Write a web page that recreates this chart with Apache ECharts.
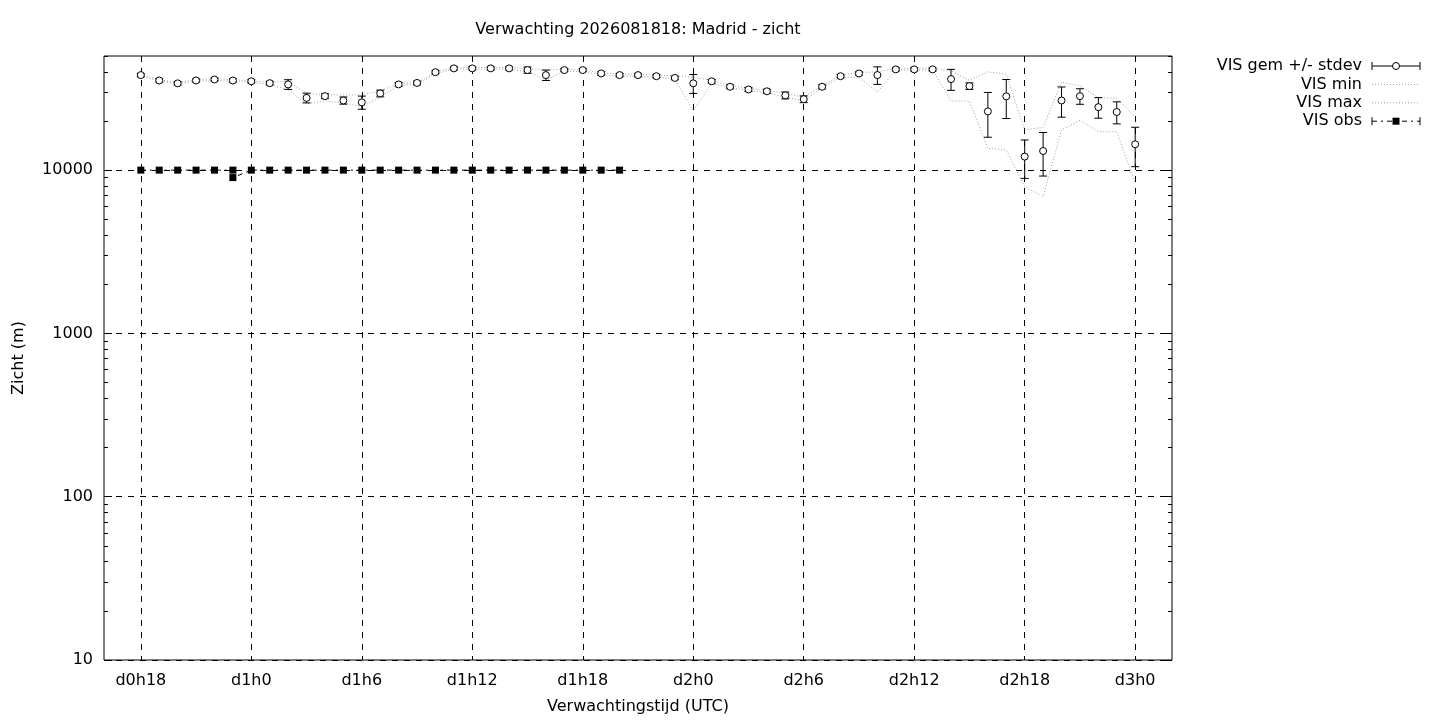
<!DOCTYPE html>
<html>
<head>
<meta charset="utf-8">
<title>Verwachting 2026081818: Madrid - zicht</title>
<script src="https://cdn.jsdelivr.net/npm/echarts@6/dist/echarts.min.js"></script>
<style>
  html, body { margin: 0; padding: 0; background: #fff; }
  #chart { width: 1440px; height: 720px; }
</style>
</head>
<body>
<div id="chart"></div>
<script>
// uren vanaf d0h0
var hours = [18,19,20,21,22,23,24,25,26,27,28,29,30,31,32,33,34,35,36,37,38,39,40,41,42,43,44,45,
    46,47,48,49,50,51,52,53,54,55,56,57,58,59,60,61,62,63,64,65,66,67,68,69,70,71,72];
// VIS gemiddelde
var visMean = [38200,35400,34000,35400,35900,35400,35000,34100,33500,27700,28400,26700,26000,29500,33500,34200,
    39800,42000,42000,42000,42000,41000,38200,41000,41000,39100,38200,38200,37600,36700,34000,35000,
    32400,31200,30400,28700,27200,32400,37600,39100,38200,41400,41400,41400,36100,32700,22900,28300,
    12100,13100,26700,28400,24300,22700,14400];
// VIS stdev
var visStdev = [900,800,800,800,800,800,800,900,2300,1900,1000,1350,2400,1400,900,900,
    900,900,900,900,900,1800,2800,900,900,900,900,900,900,900,4500,900,
    900,900,900,1400,1300,900,900,900,4700,900,900,900,5300,1500,7000,7600,
    3200,3900,5600,3100,3500,3500,3900];
// VIS min
var visMin = [38000,35000,33800,35000,35500,35000,34500,33500,31000,25500,26500,25800,24500,28000,33000,33500,
    39000,41500,41500,41500,41500,40000,35500,40500,40000,38500,37800,37500,37000,36500,23000,34000,
    32000,30800,29800,28000,26500,32000,37000,37000,30000,41000,41000,41000,26500,26500,13600,13300,
    7900,6900,17600,20200,17200,17200,8300];
// VIS max
var visMax = [38500,35800,34400,35800,36300,35800,35200,34500,35000,29500,29000,28800,29000,30500,34000,34300,
    40000,42500,42500,42500,42500,42000,41000,41500,41000,39500,38700,38700,38000,38000,37000,35500,
    33000,31800,30800,29500,28000,33000,38000,39600,40000,42000,42000,42000,40600,35500,40000,38700,
    17600,18300,34700,32700,27900,27500,21200];
// VIS waarnemingen (uur 18 t/m 44, om uur 23 twee waarnemingen)
var obsHours = [18,19,20,21,22,23,23,24,25,26,27,28,29,30,31,32,33,34,35,36,37,38,39,40,41,42,43,44];
var visObs = [10000,10000,10000,10000,10000,10000,9000,10000,10000,10000,10000,10000,10000,10000,10000,
    10000,10000,10000,10000,10000,10000,10000,10000,10000,10000,10000,10000,10000];

var xTicks = [18,24,30,36,42,48,54,60,66,72];
var yMajor = [10,100,1000,10000];
var yMinor = [20,30,40,50,60,70,80,90,200,300,400,500,600,700,800,900,
    2000,3000,4000,5000,6000,7000,8000,9000,20000,30000,40000,50000];

var FONT = 'DejaVu Sans';
var FS = 16;
var gridDash = [6,6];

function pairs(xs, ys) {
    var out = [];
    for (var i = 0; i < xs.length; i++) out.push([xs[i], ys[i]]);
    return out;
}
var errData = [];
for (var i = 0; i < hours.length; i++) errData.push([hours[i], visMean[i], visStdev[i]]);

function renderErr(params, api) {
    var x = api.value(0), m = api.value(1), s = api.value(2);
    var c = api.coord([x, m]);
    var hi = api.coord([x, m + s]);
    var lo = api.coord([x, m - s]);
    var w = 4;
    var st = {stroke: '#000', lineWidth: 1};
    return {
        type: 'group',
        children: [
            {type: 'line', shape: {x1: c[0], y1: hi[1], x2: c[0], y2: lo[1]}, style: st},
            {type: 'line', shape: {x1: c[0] - w, y1: hi[1], x2: c[0] + w, y2: hi[1]}, style: st},
            {type: 'line', shape: {x1: c[0] - w, y1: lo[1], x2: c[0] + w, y2: lo[1]}, style: st},
            {type: 'circle', shape: {cx: c[0], cy: c[1], r: 3.5}, style: {fill: '#fff', stroke: '#000', lineWidth: 1}}
        ]
    };
}

function yAxisDef(pos, ticks, len, withLabels) {
    return {
        type: 'log', logBase: 10, min: 10, max: 50000, position: pos,
        axisLine: {show: false},
        axisTick: {show: true, inside: true, length: len, customValues: ticks, lineStyle: {color: '#000'}},
        axisLabel: withLabels ? {show: true, customValues: yMajor, margin: 11, color: '#000', fontSize: FS, fontFamily: FONT,
            formatter: function (v) { return String(Math.round(v)); }} : {show: false},
        splitLine: withLabels ? {show: true, lineStyle: {color: '#000', type: gridDash, width: 1}} : {show: false},
        minorTick: {show: false},
        name: withLabels ? 'Zicht (m)' : '',
        nameLocation: 'middle',
        nameGap: 77,
        nameTextStyle: {color: '#000', fontSize: FS, fontFamily: FONT}
    };
}

// legenda
var lx0 = 1372, lx1 = 1420, lxm = 1396, ltx = 1362;
var rows = [66, 84.4, 102.8, 121.2];
var legendLabels = ['VIS gem +/- stdev', 'VIS min', 'VIS max', 'VIS obs'];
var graphics = [];
var blk = {stroke: '#000', lineWidth: 1};
legendLabels.forEach(function (t, k) {
    graphics.push({type: 'text', x: ltx, y: rows[k], style: {text: t, align: 'right', verticalAlign: 'middle',
        fill: '#000', font: FS + 'px "' + FONT + '"'}});
});
graphics.push({type: 'line', shape: {x1: lx0, y1: rows[0], x2: lx1, y2: rows[0]}, style: blk});
graphics.push({type: 'line', shape: {x1: lx0, y1: rows[0] - 4, x2: lx0, y2: rows[0] + 4}, style: blk});
graphics.push({type: 'line', shape: {x1: lx1, y1: rows[0] - 4, x2: lx1, y2: rows[0] + 4}, style: blk});
graphics.push({type: 'circle', shape: {cx: lxm, cy: rows[0], r: 3.5}, style: {fill: '#fff', stroke: '#000', lineWidth: 1}});
[1, 2].forEach(function (k) {
    graphics.push({type: 'line', shape: {x1: lx0, y1: rows[k], x2: lx1, y2: rows[k]},
        style: {stroke: '#a0a0a0', lineWidth: 1, lineDash: [1, 2]}});
});
graphics.push({type: 'line', shape: {x1: lx0, y1: rows[3], x2: lx1, y2: rows[3]}, style: {stroke: '#000', lineWidth: 1, lineDash: [5, 4, 2, 4]}});
graphics.push({type: 'line', shape: {x1: lx0, y1: rows[3] - 4, x2: lx0, y2: rows[3] + 4}, style: blk});
graphics.push({type: 'line', shape: {x1: lx1, y1: rows[3] - 4, x2: lx1, y2: rows[3] + 4}, style: blk});
graphics.push({type: 'rect', shape: {x: lxm - 3.5, y: rows[3] - 3.5, width: 7, height: 7}, style: {fill: '#000'}});

var chart = echarts.init(document.getElementById('chart'), null, {renderer: 'canvas'});
var option = {
    backgroundColor: '#fff',
    animation: false,
    title: {
        text: 'Verwachting 2026081818: Madrid - zicht',
        left: 638, top: 22, padding: 0, textAlign: 'center',
        textStyle: {color: '#000', fontSize: FS, fontWeight: 'normal', fontFamily: FONT}
    },
    grid: {left: 104, right: 268, top: 56, bottom: 60, show: true, borderColor: '#000', borderWidth: 1, backgroundColor: 'transparent'},
    xAxis: [{
        type: 'value', min: 16, max: 74, position: 'bottom',
        axisLine: {show: false},
        axisTick: {show: false, customValues: xTicks},
        axisLabel: {
            customValues: xTicks, margin: 13, color: '#000', fontSize: FS, fontFamily: FONT,
            formatter: function (v) { return 'd' + Math.floor(v / 24) + 'h' + (v % 24); }
        },
        splitLine: {show: true, lineStyle: {color: '#000', type: gridDash, width: 1}},
        name: 'Verwachtingstijd (UTC)', nameLocation: 'middle', nameGap: 39,
        nameTextStyle: {color: '#000', fontSize: FS, fontFamily: FONT}
    }],
    yAxis: [
        yAxisDef('left', yMajor, 8, true),
        yAxisDef('left', yMinor, 4, false),
        yAxisDef('right', yMajor, 8, false),
        yAxisDef('right', yMinor, 4, false)
    ],
    series: [
        {
            name: 'VIS min', type: 'line', data: pairs(hours, visMin), symbol: 'none', silent: true,
            lineStyle: {color: '#a0a0a0', width: 1, type: [1, 2]}, z: 2
        },
        {
            name: 'VIS max', type: 'line', data: pairs(hours, visMax), symbol: 'none', silent: true,
            lineStyle: {color: '#a0a0a0', width: 1, type: [1, 2]}, z: 2
        },
        {
            name: 'VIS gem +/- stdev', type: 'custom', data: errData, renderItem: renderErr,
            encode: {x: 0, y: 1}, z: 3
        },
        {
            name: 'VIS obs', type: 'line', data: pairs(obsHours, visObs), symbol: 'rect', symbolSize: 7,
            itemStyle: {color: '#000'}, lineStyle: {color: '#000', width: 1, type: [5, 4, 2, 4]}, z: 4
        }
    ],
    graphic: graphics
};
chart.setOption(option);
</script>
</body>
</html>
